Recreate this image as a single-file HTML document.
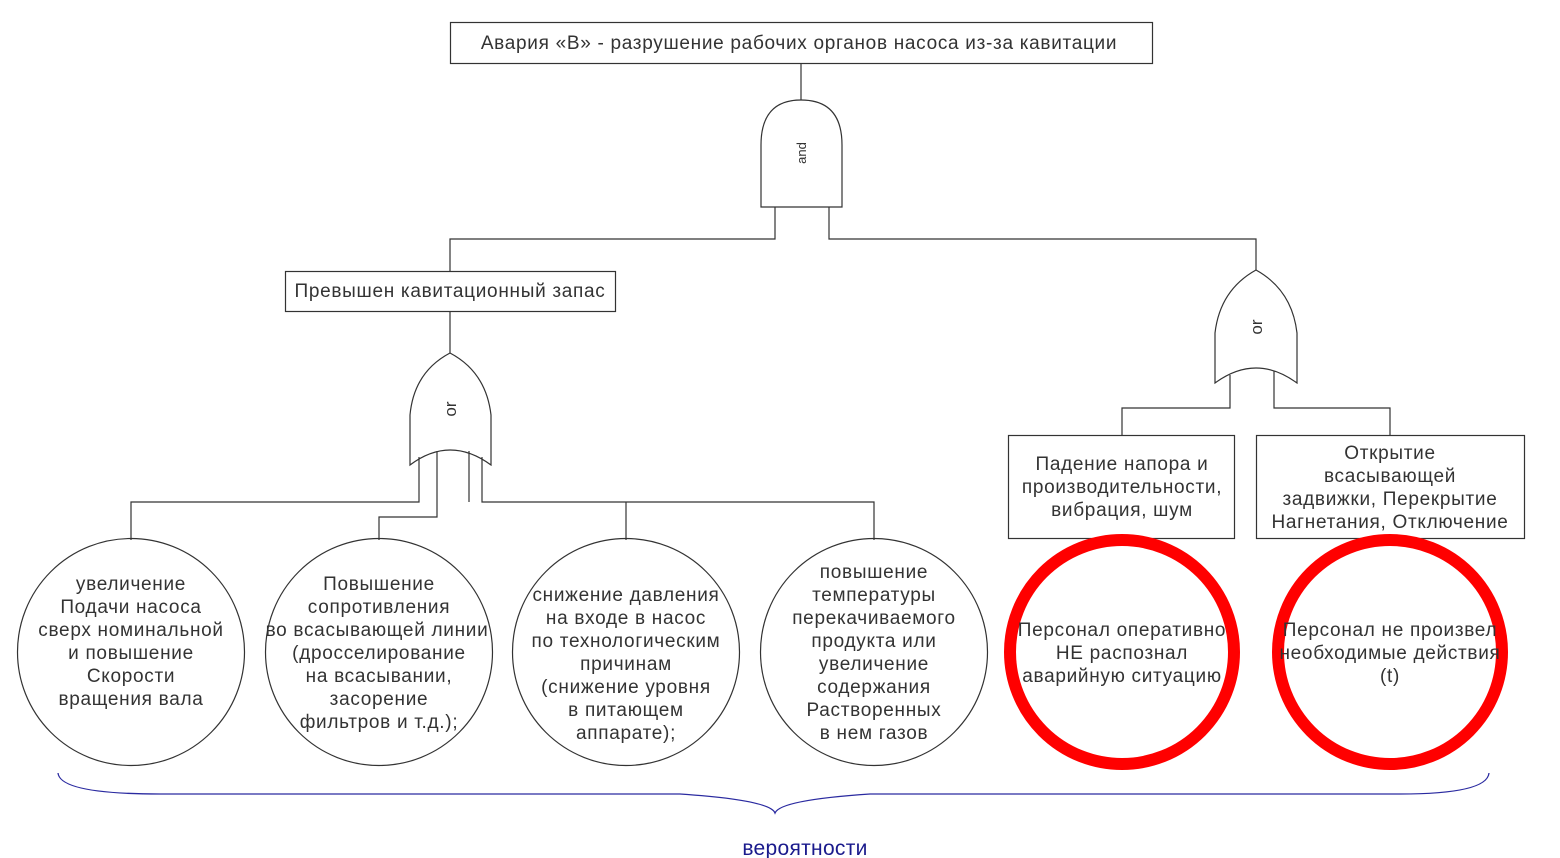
<!DOCTYPE html>
<html><head><meta charset="utf-8"><style>
html,body{margin:0;padding:0;background:#fff;width:1560px;height:858px;overflow:hidden}
svg{display:block}
text{font-family:"Liberation Sans","DejaVu Sans",sans-serif;fill:#333;font-size:19px;letter-spacing:0.7px;text-anchor:middle}
</style></head><body>
<svg width="1560" height="858" viewBox="0 0 1560 858" xmlns="http://www.w3.org/2000/svg">
<g fill="none" stroke="#333" stroke-width="1.2">
<rect x="450.5" y="22.5" width="702" height="41"/>
<line x1="801" y1="64" x2="801" y2="100"/>
<path d="M761,207 L761,145 Q761,100 801,100 Q842,100 842,145 L842,207 Z" fill="#fff"/>
<path d="M775,207 V239 H450 V271"/>
<path d="M829,207 V239 H1256 V270"/>
<rect x="285.5" y="271.5" width="330" height="40"/>
<line x1="450" y1="312" x2="450" y2="353"/>
<path d="M410,465 L410,415 Q414,372 450,353 Q486,372 491,415 L491,465 Q450,435 410,465 Z" fill="#fff"/>
<path d="M419,457 V502 H131 V540"/>
<path d="M437,451 V517 H379 V540"/>
<path d="M469,451 V502"/>
<path d="M482,457 V502 H874 V540"/>
<path d="M626,502 V540"/>
<path d="M1215,383 L1215,333 Q1220,290 1256,270 Q1292,290 1297,333 L1297,383 Q1256,353 1215,383 Z" fill="#fff"/>
<path d="M1230,375 V408 H1122 V435"/>
<path d="M1274,371 V408 H1390 V435"/>
<rect x="1008.5" y="435.5" width="226" height="103"/>
<rect x="1256.5" y="435.5" width="268" height="103"/>
<circle cx="131" cy="652" r="113.5"/>
<circle cx="379" cy="652" r="113.5"/>
<circle cx="626" cy="652" r="113.5"/>
<circle cx="874" cy="652" r="113.5"/>
</g>
<circle cx="1122" cy="652" r="112" fill="none" stroke="#ff0000" stroke-width="12"/>
<circle cx="1390" cy="652" r="112" fill="none" stroke="#ff0000" stroke-width="12"/>
<path d="M58,773 Q60,794 160,794 L680,794 Q770,800 775,813 Q780,800 870,794 L1400,794 Q1487,794 1489,773" fill="none" stroke="#2a2aa0" stroke-width="1.3"/>
<text x="805" y="855" style="fill:#1a1a8c;font-size:21px;letter-spacing:0.3px">вероятности</text>

<text x="799" y="49">Авария «В» - разрушение  рабочих органов насоса из-за кавитации</text>
<text x="450" y="297">Превышен кавитационный запас</text>
<text transform="translate(806,153) rotate(-90)" style="font-size:13px;letter-spacing:0">and</text>
<text transform="translate(456,409) rotate(-90)" style="font-size:17px;letter-spacing:0">or</text>
<text transform="translate(1262,327) rotate(-90)" style="font-size:17px;letter-spacing:0">or</text>

<text x="1122" y="470">Падение напора и</text>
<text x="1122" y="493">производительности,</text>
<text x="1122" y="516">вибрация, шум</text>
<text x="1390" y="459">Открытие</text>
<text x="1390" y="482">всасывающей</text>
<text x="1390" y="505">задвижки, Перекрытие</text>
<text x="1390" y="528">Нагнетания, Отключение</text>

<text x="131" y="590">увеличение</text>
<text x="131" y="613">Подачи  насоса</text>
<text x="131" y="636">сверх номинальной</text>
<text x="131" y="659">и повышение</text>
<text x="131" y="682">Скорости</text>
<text x="131" y="705">вращения вала</text>

<text x="379" y="590">Повышение</text>
<text x="379" y="613">сопротивления</text>
<text x="377" y="636">во всасывающей линии</text>
<text x="379" y="659">(дросселирование</text>
<text x="379" y="682">на всасывании,</text>
<text x="379" y="705">засорение</text>
<text x="379" y="728">фильтров и т.д.);</text>

<text x="626" y="601">снижение давления</text>
<text x="626" y="624">на входе в насос</text>
<text x="626" y="647">по технологическим</text>
<text x="626" y="670">причинам</text>
<text x="626" y="693">(снижение уровня</text>
<text x="626" y="716">в питающем</text>
<text x="626" y="739">аппарате);</text>

<text x="874" y="578">повышение</text>
<text x="874" y="601">температуры</text>
<text x="874" y="624">перекачиваемого</text>
<text x="874" y="647">продукта или</text>
<text x="874" y="670">увеличение</text>
<text x="874" y="693">содержания</text>
<text x="874" y="716">Растворенных</text>
<text x="874" y="739">в нем газов</text>

<text x="1122" y="636">Персонал оперативно</text>
<text x="1122" y="659">НЕ  распознал</text>
<text x="1122" y="682">аварийную ситуацию</text>
<text x="1390" y="636">Персонал не произвел</text>
<text x="1390" y="659">необходимые действия</text>
<text x="1390" y="682">(t)</text>
</svg>
</body></html>
